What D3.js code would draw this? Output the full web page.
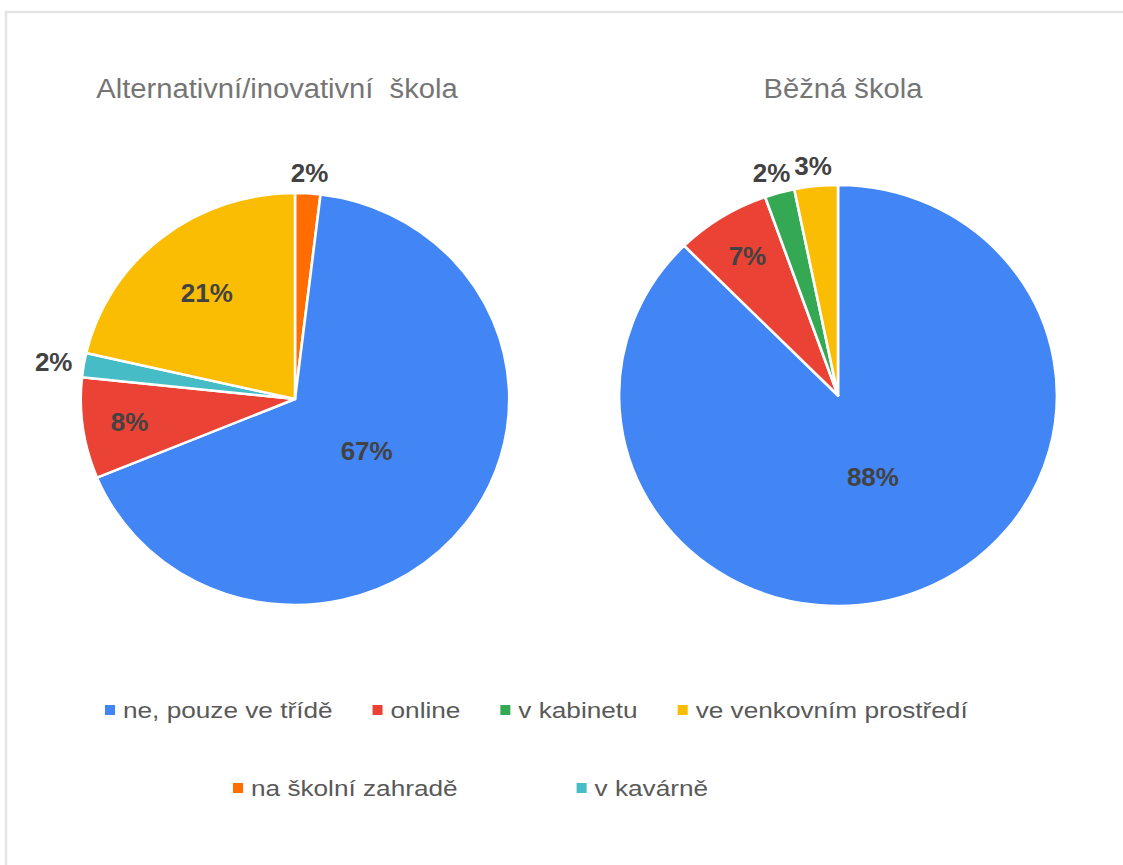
<!DOCTYPE html>
<html><head><meta charset="utf-8">
<script src="https://cdn.jsdelivr.net/npm/d3@7"></script>
<style>body{margin:0;background:#fff}svg{display:block}</style>
</head><body>
<script>
// ---- data ----
const categories = ["ne, pouze ve třídě","online","v kabinetu","ve venkovním prostředí","na školní zahradě","v kavárně"];
const colors = ["#4285f4","#ea4335","#34a853","#fbbc04","#ff6d01","#46bdc6"];
const altTitle = "Alternativní/inovativní  škola";
const bezTitle = "Běžná škola";
const altValues = [66.8, 7.9, 0, 21.4, 1.9, 1.9];
const bezValues = [87.6, 7.0, 2.2, 3.2, 0, 0];
const altOrder = [4, 0, 1, 5, 3];
const bezOrder = [0, 1, 2, 3];
const legendRows = [[0,1,2,3],[4,5]];

// ---- layout ----
const W = 1123, H = 865, SX = 1.04;
const svg = d3.select("body").append("svg").attr("width", W).attr("height", H);
svg.append("rect").attr("x",6).attr("y",12).attr("width",W+20).attr("height",H+20)
  .attr("fill","none").attr("stroke","#e4e4e4").attr("stroke-width",2.5);

const FONT = "'Liberation Sans', Arial, sans-serif";

function drawPie(title, values, order, cx, cy, r, titleX){
  svg.append("text").attr("transform",`translate(${titleX},98) scale(1.08,1)`)
    .attr("text-anchor","middle").attr("font-family",FONT).attr("font-size",27)
    .attr("fill","#757575").style("white-space","pre").text(title);
  const data = order.map(i => ({i, v: values[i]}));
  const arcs = d3.pie().sort(null).value(d => d.v)(data);
  const arc = d3.arc().innerRadius(0).outerRadius(r);
  const g = svg.append("g").attr("transform",`translate(${cx},${cy})`);
  g.append("g").attr("transform",`scale(${SX},1)`).selectAll("path").data(arcs).join("path")
    .attr("d", arc).attr("fill", d => colors[d.data.i])
    .attr("stroke","#fff").attr("stroke-width",2.5).attr("stroke-linejoin","round");
  const total = d3.sum(values);
  arcs.forEach(a => {
    const span = a.endAngle - a.startAngle;
    const mid = (a.startAngle + a.endAngle)/2;
    const pct = Math.round(a.data.v/total*100) + "%";
    let x, y;
    const sn = Math.sin(mid), cs = -Math.cos(mid);
    if (a.data.v/total < 0.05) {
      const rr = r + 10;
      x = SX*rr*sn + sn*20; y = rr*cs + cs*10;
    } else {
      const f = span > Math.PI ? 0.42 : span > 1 ? 0.66 : 0.78;
      x = SX*r*f*sn; y = r*f*cs;
    }
    g.append("text").attr("transform",`translate(${x},${y}) scale(${SX},1)`)
      .attr("text-anchor","middle").attr("dominant-baseline","central")
      .attr("font-family",FONT).attr("font-size",25).attr("font-weight","bold")
      .attr("fill","#424242").text(pct);
  });
}
drawPie(altTitle, altValues, altOrder, 295, 399, 206, 277);
drawPie(bezTitle, bezValues, bezOrder, 838, 395.5, 210.5, 843);

// legend
const LSX = 1.19;
const rowSpec = [{start:105, gap:40, y:710}, {start:233, gap:119, y:788}];
legendRows.forEach((row, ri) => {
  let x = rowSpec[ri].start;
  const y = rowSpec[ri].y;
  row.forEach(i => {
    svg.append("rect").attr("x",x).attr("y",y-5).attr("width",10).attr("height",10).attr("fill",colors[i]);
    const t = svg.append("text").attr("transform",`translate(${x+18},${y+8}) scale(${LSX},1)`)
      .attr("font-family",FONT).attr("font-size",22).attr("fill","#595959").text(categories[i]);
    x += 18 + t.node().getComputedTextLength()*LSX + rowSpec[ri].gap;
  });
});
</script>
</body></html>
